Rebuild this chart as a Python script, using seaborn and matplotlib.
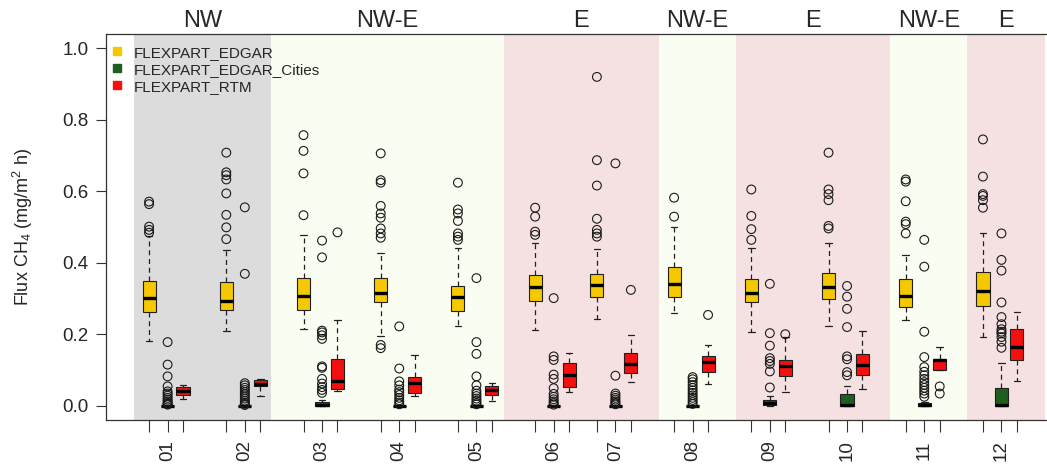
import numpy as np
import pandas as pd
import matplotlib
matplotlib.use("Agg")
import matplotlib.pyplot as plt
import matplotlib.transforms as mtransforms
from matplotlib.lines import Line2D
import seaborn as sns

# ---------------------------------------------------------------- data
months = ["01", "02", "03", "04", "05", "06", "07", "08", "09", "10", "11", "12"]
series = ["FLEXPART_EDGAR", "FLEXPART_EDGAR_Cities", "FLEXPART_RTM"]

# box summaries per month: (lower whisker, Q1, median, Q3, upper whisker)
edgar_stats = [
    (0.182, 0.261, 0.300, 0.350, 0.476),
    (0.209, 0.268, 0.293, 0.345, 0.436),
    (0.215, 0.268, 0.307, 0.358, 0.478),
    (0.196, 0.289, 0.315, 0.358, 0.428),
    (0.222, 0.265, 0.305, 0.336, 0.440),
    (0.212, 0.294, 0.331, 0.366, 0.454),
    (0.243, 0.304, 0.337, 0.368, 0.438),
    (0.259, 0.304, 0.341, 0.389, 0.501),
    (0.205, 0.291, 0.315, 0.355, 0.442),
    (0.224, 0.298, 0.331, 0.371, 0.454),
    (0.240, 0.276, 0.308, 0.355, 0.422),
    (0.192, 0.280, 0.320, 0.375, 0.484),
]
cities_stats = [
    (0.0, 0.0, 0.0, 0.0, 0.0),
    (0.0, 0.0, 0.0, 0.0, 0.0),
    (0.0, 0.0, 0.003, 0.009, 0.017),
    (0.0, 0.0, 0.0, 0.0, 0.0),
    (0.0, 0.0, 0.0, 0.0, 0.0),
    (0.0, 0.0, 0.0, 0.0, 0.0),
    (0.0, 0.0, 0.0, 0.0, 0.0),
    (0.0, 0.0, 0.0, 0.0, 0.0),
    (0.0, 0.001, 0.008, 0.017, 0.028),
    (0.0, 0.0, 0.003, 0.034, 0.054),
    (0.0, 0.0, 0.003, 0.008, 0.010),
    (0.0, 0.0, 0.002, 0.049, 0.119),
]
rtm_stats = [
    (0.019, 0.031, 0.040, 0.051, 0.059),
    (0.026, 0.054, 0.061, 0.073, 0.075),
    (0.040, 0.046, 0.070, 0.131, 0.240),
    (0.028, 0.035, 0.063, 0.079, 0.142),
    (0.012, 0.031, 0.043, 0.054, 0.063),
    (0.037, 0.052, 0.087, 0.119, 0.147),
    (0.065, 0.091, 0.117, 0.147, 0.198),
    (0.061, 0.093, 0.121, 0.138, 0.170),
    (0.037, 0.084, 0.112, 0.128, 0.192),
    (0.047, 0.087, 0.115, 0.144, 0.210),
    (0.099, 0.099, 0.127, 0.130, 0.163),
    (0.068, 0.128, 0.164, 0.216, 0.261),
]

# values beyond the whiskers
edgar_outliers = [
    [0.571, 0.564, 0.501, 0.492, 0.484],
    [0.708, 0.653, 0.645, 0.633, 0.594, 0.534, 0.499, 0.466],
    [0.757, 0.713, 0.650, 0.533],
    [0.706, 0.631, 0.624, 0.559, 0.538, 0.526, 0.496, 0.482, 0.470, 0.170, 0.161],
    [0.624, 0.549, 0.538, 0.517, 0.482, 0.473, 0.464],
    [0.554, 0.529, 0.487, 0.478],
    [0.920, 0.687, 0.616, 0.523, 0.492, 0.482, 0.473],
    [0.582, 0.529],
    [0.605, 0.531, 0.494, 0.464],
    [0.708, 0.605, 0.592, 0.575, 0.503, 0.496],
    [0.633, 0.627, 0.572, 0.515, 0.508, 0.482],
    [0.745, 0.641, 0.592, 0.587, 0.575, 0.554],
]
cities_outliers = [
    [0.178, 0.115, 0.082, 0.054, 0.040, 0.034, 0.028, 0.022, 0.017, 0.012, 0.008, 0.005, 0.003],
    [0.555, 0.369, 0.063, 0.057, 0.050, 0.044, 0.038, 0.032, 0.026, 0.020, 0.014, 0.009, 0.005, 0.002],
    [0.462, 0.415, 0.210, 0.205, 0.197, 0.187, 0.110, 0.106, 0.075, 0.062, 0.052, 0.044, 0.036],
    [0.222, 0.104, 0.068, 0.057, 0.045, 0.038, 0.030, 0.022, 0.015, 0.009, 0.004],
    [0.357, 0.178, 0.145, 0.082, 0.057, 0.042, 0.034, 0.027, 0.020, 0.014, 0.008, 0.004],
    [0.301, 0.138, 0.128, 0.087, 0.075, 0.049, 0.033, 0.025, 0.018, 0.012, 0.007, 0.003],
    [0.678, 0.084, 0.034, 0.028, 0.022, 0.017, 0.012, 0.008, 0.004],
    [0.080, 0.074, 0.066, 0.058, 0.050, 0.043, 0.036, 0.029, 0.022, 0.016, 0.010, 0.005],
    [0.341, 0.203, 0.168, 0.133, 0.125, 0.117, 0.096, 0.051],
    [0.335, 0.305, 0.271, 0.220, 0.138, 0.130, 0.094, 0.085],
    [0.464, 0.389, 0.207, 0.136, 0.108, 0.095, 0.085, 0.075, 0.066, 0.058, 0.050, 0.042, 0.034, 0.025],
    [0.482, 0.408, 0.378, 0.289, 0.248, 0.228, 0.214, 0.207, 0.202, 0.192, 0.179, 0.162],
]
rtm_outliers = [
    [], [], [0.485], [], [], [], [0.324], [0.254], [0.200], [], [0.054, 0.034], [],
]

# wind-regime periods along the time axis
region_labels = ["NW", "NW-E", "E", "NW-E", "E", "NW-E", "E"]
region_kinds = ["NW", "NW-E", "E", "NW-E", "E", "NW-E", "E"]

# ---------------------------------------------------------------- layout
group_start = [0, 5, 10, 15, 20, 25, 29, 34, 39, 44, 49, 54]
series_offset = [0.0, 1.2, 2.2]
region_edges = [-1.0, 7.9, 23.0, 33.0, 38.0, 48.0, 53.0, 58.0]

palette = {
    "FLEXPART_EDGAR": "#F5C800",
    "FLEXPART_EDGAR_Cities": "#1E5E1E",
    "FLEXPART_RTM": "#F51010",
}
region_colors = {"NW": "#DCDCDC", "NW-E": "#FAFDF2", "E": "#F6E1E2"}

all_stats = [edgar_stats, cities_stats, rtm_stats]
all_out = [edgar_outliers, cities_outliers, rtm_outliers]

box_rows, out_rows = [], []
for s, name in enumerate(series):
    for m in range(len(months)):
        pos = group_start[m] + series_offset[s]
        for v in all_stats[s][m]:
            box_rows.append({"pos": pos, "flux": v, "series": name})
        for v in all_out[s][m]:
            out_rows.append({"pos": pos, "flux": v, "series": name})
boxes = pd.DataFrame(box_rows)
outl = pd.DataFrame(out_rows)

# ---------------------------------------------------------------- figure
sns.set_style("ticks")
plt.rcParams["font.family"] = ["Liberation Sans", "DejaVu Sans"]
plt.rcParams["mathtext.fontset"] = "custom"
plt.rcParams["mathtext.rm"] = "Liberation Sans"
plt.rcParams["mathtext.it"] = "Liberation Sans:italic"

W, H = 1047, 468
fig = plt.figure(figsize=(W / 100, H / 100), dpi=100)
ax = fig.add_axes([106 / W, (H - 420) / H, (1062 - 106) / W, (420 - 34) / H])

for (x0, x1, kind) in zip(region_edges[:-1], region_edges[1:], region_kinds):
    ax.axvspan(x0, x1, color=region_colors[kind], lw=0, zorder=0)

sns.boxplot(
    data=boxes, x="pos", y="flux", hue="series", palette=palette,
    native_scale=True, dodge=False, width=0.85, whis=(0, 100),
    saturation=1, showfliers=False, linecolor="#202020", linewidth=0.8,
    legend=False,
    medianprops=dict(color="black", linewidth=2.4),
    whiskerprops=dict(color="#202020", linewidth=0.9, linestyle=(0, (4, 3))),
    capprops=dict(color="#202020", linewidth=0.9),
    ax=ax,
)

sns.scatterplot(
    data=outl, x="pos", y="flux", marker="o", s=40,
    facecolor="none", edgecolor="#1a1a1a", linewidth=0.8, ax=ax, zorder=3,
)

ax.set_xlim(-2.79, 59.12)
ax.set_ylim(-0.04, 1.04)

# ticks: one per box, label on the middle box of each month
tick_pos, tick_lab = [], []
for m, mon in enumerate(months):
    for s in range(3):
        tick_pos.append(group_start[m] + series_offset[s])
        tick_lab.append(mon if s == 1 else "")
ax.set_xticks(tick_pos)
ax.set_xticklabels(tick_lab, rotation=90, fontsize=13.5)
ax.set_yticks([0.0, 0.2, 0.4, 0.6, 0.8, 1.0])
ax.set_yticklabels(["0.0", "0.2", "0.4", "0.6", "0.8", "1.0"], fontsize=13.5)
ax.tick_params(axis="x", length=8.5, width=0.8, pad=6, color="#333333")
ax.tick_params(axis="y", length=7.5, width=0.8, pad=5, color="#333333")
ax.set_xlabel("")
ax.set_ylabel("Flux CH$_4$ (mg/m$^2$ h)", fontsize=13)
ax.yaxis.set_label_coords(-0.074, 0.5)

for side in ["left", "bottom", "top", "right"]:
    ax.spines[side].set_visible(True)
    ax.spines[side].set_color("#333333")
    ax.spines[side].set_linewidth(0.9)

# period labels above the plot
trans = mtransforms.blended_transform_factory(ax.transData, ax.transAxes)
for (x0, x1, lab) in zip(region_edges[:-1], region_edges[1:], region_labels):
    ax.text((x0 + x1) / 2, 1.018, lab, transform=trans, ha="center",
            va="baseline", fontsize=17)

handles = [Line2D([], [], marker="s", ls="", color=palette[s], markersize=5.5)
           for s in series]
ax.legend(handles, series, loc="upper left", bbox_to_anchor=(0.003, 0.97),
          frameon=False, fontsize=11, handlelength=1.0, handletextpad=0.6,
          labelspacing=0.2, borderaxespad=0, borderpad=0)

fig.savefig("out.png", dpi=100)
